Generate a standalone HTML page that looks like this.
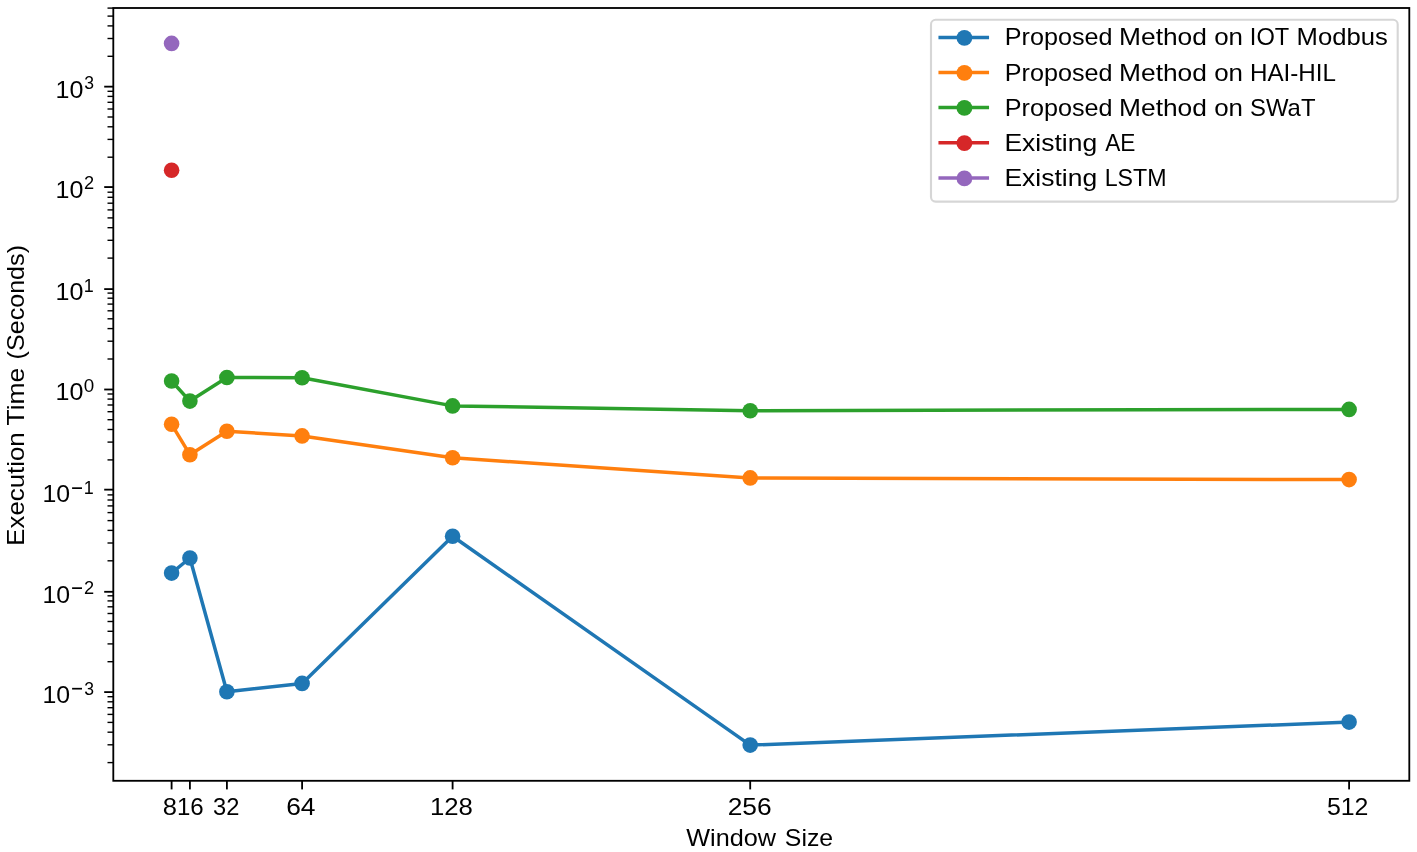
<!DOCTYPE html>
<html><head><meta charset="utf-8"><title>Execution Time vs Window Size</title>
<style>html,body{margin:0;padding:0;background:#fff;}svg{display:block;}</style></head>
<body>
<svg width="1417" height="852" viewBox="0 0 1417 852" font-family="Liberation Sans, sans-serif" fill="#000" style="will-change:transform">
<rect width="1417" height="852" fill="#fff"/>
<polyline points="171.6,573.1 189.9,558.0 226.9,691.8 302.1,683.4 452.6,536.3 750.2,745.1 1349.1,722.1" fill="none" stroke="#1f77b4" stroke-width="3.5" stroke-linejoin="round" stroke-linecap="square"/>
<circle cx="171.6" cy="573.1" r="7.8" fill="#1f77b4"/>
<circle cx="189.9" cy="558.0" r="7.8" fill="#1f77b4"/>
<circle cx="226.9" cy="691.8" r="7.8" fill="#1f77b4"/>
<circle cx="302.1" cy="683.4" r="7.8" fill="#1f77b4"/>
<circle cx="452.6" cy="536.3" r="7.8" fill="#1f77b4"/>
<circle cx="750.2" cy="745.1" r="7.8" fill="#1f77b4"/>
<circle cx="1349.1" cy="722.1" r="7.8" fill="#1f77b4"/>
<polyline points="171.6,424.3 189.9,454.7 226.9,431.2 302.1,435.9 452.6,457.8 750.2,477.9 1349.1,479.6" fill="none" stroke="#ff7f0e" stroke-width="3.5" stroke-linejoin="round" stroke-linecap="square"/>
<circle cx="171.6" cy="424.3" r="7.8" fill="#ff7f0e"/>
<circle cx="189.9" cy="454.7" r="7.8" fill="#ff7f0e"/>
<circle cx="226.9" cy="431.2" r="7.8" fill="#ff7f0e"/>
<circle cx="302.1" cy="435.9" r="7.8" fill="#ff7f0e"/>
<circle cx="452.6" cy="457.8" r="7.8" fill="#ff7f0e"/>
<circle cx="750.2" cy="477.9" r="7.8" fill="#ff7f0e"/>
<circle cx="1349.1" cy="479.6" r="7.8" fill="#ff7f0e"/>
<polyline points="171.6,381.0 189.9,401.1 226.9,377.5 302.1,377.8 452.6,405.9 750.2,410.7 1349.1,409.4" fill="none" stroke="#2ca02c" stroke-width="3.5" stroke-linejoin="round" stroke-linecap="square"/>
<circle cx="171.6" cy="381.0" r="7.8" fill="#2ca02c"/>
<circle cx="189.9" cy="401.1" r="7.8" fill="#2ca02c"/>
<circle cx="226.9" cy="377.5" r="7.8" fill="#2ca02c"/>
<circle cx="302.1" cy="377.8" r="7.8" fill="#2ca02c"/>
<circle cx="452.6" cy="405.9" r="7.8" fill="#2ca02c"/>
<circle cx="750.2" cy="410.7" r="7.8" fill="#2ca02c"/>
<circle cx="1349.1" cy="409.4" r="7.8" fill="#2ca02c"/>
<circle cx="171.6" cy="170.2" r="7.8" fill="#d62728"/>
<circle cx="171.6" cy="43.4" r="7.8" fill="#9467bd"/>
<line x1="171.6" y1="780.8" x2="171.6" y2="789.4" stroke="#000" stroke-width="1.83"/>
<line x1="189.9" y1="780.8" x2="189.9" y2="789.4" stroke="#000" stroke-width="1.83"/>
<line x1="226.9" y1="780.8" x2="226.9" y2="789.4" stroke="#000" stroke-width="1.83"/>
<line x1="302.1" y1="780.8" x2="302.1" y2="789.4" stroke="#000" stroke-width="1.83"/>
<line x1="452.6" y1="780.8" x2="452.6" y2="789.4" stroke="#000" stroke-width="1.83"/>
<line x1="750.2" y1="780.8" x2="750.2" y2="789.4" stroke="#000" stroke-width="1.83"/>
<line x1="1349.1" y1="780.8" x2="1349.1" y2="789.4" stroke="#000" stroke-width="1.83"/>
<line x1="113.3" y1="86.65" x2="104.2" y2="86.65" stroke="#000" stroke-width="1.83"/>
<line x1="113.3" y1="187.06" x2="104.2" y2="187.06" stroke="#000" stroke-width="1.83"/>
<line x1="113.3" y1="289.1" x2="104.2" y2="289.1" stroke="#000" stroke-width="1.83"/>
<line x1="113.3" y1="389.5" x2="104.2" y2="389.5" stroke="#000" stroke-width="1.83"/>
<line x1="113.3" y1="489.65" x2="104.2" y2="489.65" stroke="#000" stroke-width="1.83"/>
<line x1="113.3" y1="591.8" x2="104.2" y2="591.8" stroke="#000" stroke-width="1.83"/>
<line x1="113.3" y1="692.1" x2="104.2" y2="692.1" stroke="#000" stroke-width="1.83"/>
<line x1="113.3" y1="762.6" x2="107.5" y2="762.6" stroke="#000" stroke-width="1.4"/>
<line x1="113.3" y1="744.8" x2="107.5" y2="744.8" stroke="#000" stroke-width="1.4"/>
<line x1="113.3" y1="732.2" x2="107.5" y2="732.2" stroke="#000" stroke-width="1.4"/>
<line x1="113.3" y1="722.4" x2="107.5" y2="722.4" stroke="#000" stroke-width="1.4"/>
<line x1="113.3" y1="714.4" x2="107.5" y2="714.4" stroke="#000" stroke-width="1.4"/>
<line x1="113.3" y1="707.7" x2="107.5" y2="707.7" stroke="#000" stroke-width="1.4"/>
<line x1="113.3" y1="701.8" x2="107.5" y2="701.8" stroke="#000" stroke-width="1.4"/>
<line x1="113.3" y1="696.7" x2="107.5" y2="696.7" stroke="#000" stroke-width="1.4"/>
<line x1="113.3" y1="661.7" x2="107.5" y2="661.7" stroke="#000" stroke-width="1.4"/>
<line x1="113.3" y1="643.9" x2="107.5" y2="643.9" stroke="#000" stroke-width="1.4"/>
<line x1="113.3" y1="631.3" x2="107.5" y2="631.3" stroke="#000" stroke-width="1.4"/>
<line x1="113.3" y1="621.5" x2="107.5" y2="621.5" stroke="#000" stroke-width="1.4"/>
<line x1="113.3" y1="613.5" x2="107.5" y2="613.5" stroke="#000" stroke-width="1.4"/>
<line x1="113.3" y1="606.8" x2="107.5" y2="606.8" stroke="#000" stroke-width="1.4"/>
<line x1="113.3" y1="600.9" x2="107.5" y2="600.9" stroke="#000" stroke-width="1.4"/>
<line x1="113.3" y1="595.8" x2="107.5" y2="595.8" stroke="#000" stroke-width="1.4"/>
<line x1="113.3" y1="560.8" x2="107.5" y2="560.8" stroke="#000" stroke-width="1.4"/>
<line x1="113.3" y1="543.0" x2="107.5" y2="543.0" stroke="#000" stroke-width="1.4"/>
<line x1="113.3" y1="530.4" x2="107.5" y2="530.4" stroke="#000" stroke-width="1.4"/>
<line x1="113.3" y1="520.6" x2="107.5" y2="520.6" stroke="#000" stroke-width="1.4"/>
<line x1="113.3" y1="512.6" x2="107.5" y2="512.6" stroke="#000" stroke-width="1.4"/>
<line x1="113.3" y1="505.9" x2="107.5" y2="505.9" stroke="#000" stroke-width="1.4"/>
<line x1="113.3" y1="500.0" x2="107.5" y2="500.0" stroke="#000" stroke-width="1.4"/>
<line x1="113.3" y1="494.9" x2="107.5" y2="494.9" stroke="#000" stroke-width="1.4"/>
<line x1="113.3" y1="459.9" x2="107.5" y2="459.9" stroke="#000" stroke-width="1.4"/>
<line x1="113.3" y1="442.1" x2="107.5" y2="442.1" stroke="#000" stroke-width="1.4"/>
<line x1="113.3" y1="429.5" x2="107.5" y2="429.5" stroke="#000" stroke-width="1.4"/>
<line x1="113.3" y1="419.7" x2="107.5" y2="419.7" stroke="#000" stroke-width="1.4"/>
<line x1="113.3" y1="411.7" x2="107.5" y2="411.7" stroke="#000" stroke-width="1.4"/>
<line x1="113.3" y1="405.0" x2="107.5" y2="405.0" stroke="#000" stroke-width="1.4"/>
<line x1="113.3" y1="399.1" x2="107.5" y2="399.1" stroke="#000" stroke-width="1.4"/>
<line x1="113.3" y1="394.0" x2="107.5" y2="394.0" stroke="#000" stroke-width="1.4"/>
<line x1="113.3" y1="359.0" x2="107.5" y2="359.0" stroke="#000" stroke-width="1.4"/>
<line x1="113.3" y1="341.2" x2="107.5" y2="341.2" stroke="#000" stroke-width="1.4"/>
<line x1="113.3" y1="328.6" x2="107.5" y2="328.6" stroke="#000" stroke-width="1.4"/>
<line x1="113.3" y1="318.8" x2="107.5" y2="318.8" stroke="#000" stroke-width="1.4"/>
<line x1="113.3" y1="310.8" x2="107.5" y2="310.8" stroke="#000" stroke-width="1.4"/>
<line x1="113.3" y1="304.1" x2="107.5" y2="304.1" stroke="#000" stroke-width="1.4"/>
<line x1="113.3" y1="298.2" x2="107.5" y2="298.2" stroke="#000" stroke-width="1.4"/>
<line x1="113.3" y1="293.1" x2="107.5" y2="293.1" stroke="#000" stroke-width="1.4"/>
<line x1="113.3" y1="258.1" x2="107.5" y2="258.1" stroke="#000" stroke-width="1.4"/>
<line x1="113.3" y1="240.3" x2="107.5" y2="240.3" stroke="#000" stroke-width="1.4"/>
<line x1="113.3" y1="227.7" x2="107.5" y2="227.7" stroke="#000" stroke-width="1.4"/>
<line x1="113.3" y1="217.9" x2="107.5" y2="217.9" stroke="#000" stroke-width="1.4"/>
<line x1="113.3" y1="209.9" x2="107.5" y2="209.9" stroke="#000" stroke-width="1.4"/>
<line x1="113.3" y1="203.2" x2="107.5" y2="203.2" stroke="#000" stroke-width="1.4"/>
<line x1="113.3" y1="197.3" x2="107.5" y2="197.3" stroke="#000" stroke-width="1.4"/>
<line x1="113.3" y1="192.2" x2="107.5" y2="192.2" stroke="#000" stroke-width="1.4"/>
<line x1="113.3" y1="157.2" x2="107.5" y2="157.2" stroke="#000" stroke-width="1.4"/>
<line x1="113.3" y1="139.4" x2="107.5" y2="139.4" stroke="#000" stroke-width="1.4"/>
<line x1="113.3" y1="126.8" x2="107.5" y2="126.8" stroke="#000" stroke-width="1.4"/>
<line x1="113.3" y1="117.0" x2="107.5" y2="117.0" stroke="#000" stroke-width="1.4"/>
<line x1="113.3" y1="109.0" x2="107.5" y2="109.0" stroke="#000" stroke-width="1.4"/>
<line x1="113.3" y1="102.3" x2="107.5" y2="102.3" stroke="#000" stroke-width="1.4"/>
<line x1="113.3" y1="96.4" x2="107.5" y2="96.4" stroke="#000" stroke-width="1.4"/>
<line x1="113.3" y1="91.3" x2="107.5" y2="91.3" stroke="#000" stroke-width="1.4"/>
<line x1="113.3" y1="56.3" x2="107.5" y2="56.3" stroke="#000" stroke-width="1.4"/>
<line x1="113.3" y1="38.5" x2="107.5" y2="38.5" stroke="#000" stroke-width="1.4"/>
<line x1="113.3" y1="25.9" x2="107.5" y2="25.9" stroke="#000" stroke-width="1.4"/>
<line x1="113.3" y1="16.1" x2="107.5" y2="16.1" stroke="#000" stroke-width="1.4"/>
<line x1="113.3" y1="8.1" x2="107.5" y2="8.1" stroke="#000" stroke-width="1.4"/>
<rect x="113.3" y="8.0" width="1296.0" height="772.8" fill="none" stroke="#000" stroke-width="1.83"/>
<text x="162.68" y="814.80" font-size="23.3" textLength="14.22" lengthAdjust="spacingAndGlyphs">8</text>
<text x="176.99" y="814.80" font-size="23.3" textLength="26.77" lengthAdjust="spacingAndGlyphs">16</text>
<text x="213.07" y="814.80" font-size="23.3" textLength="26.35" lengthAdjust="spacingAndGlyphs">32</text>
<text x="286.16" y="814.80" font-size="23.3" textLength="29.36" lengthAdjust="spacingAndGlyphs">64</text>
<text x="429.96" y="814.80" font-size="23.3" textLength="42.97" lengthAdjust="spacingAndGlyphs">128</text>
<text x="727.67" y="814.80" font-size="23.3" textLength="44.00" lengthAdjust="spacingAndGlyphs">256</text>
<text x="1326.94" y="814.80" font-size="23.3" textLength="41.53" lengthAdjust="spacingAndGlyphs">512</text>
<text x="55.50" y="97.50" font-size="23.3" textLength="27.87" lengthAdjust="spacingAndGlyphs">10</text>
<text x="84.23" y="89.00" font-size="18.8" textLength="9.79" lengthAdjust="spacingAndGlyphs">3</text>
<text x="55.50" y="197.60" font-size="23.3" textLength="27.87" lengthAdjust="spacingAndGlyphs">10</text>
<text x="83.95" y="189.40" font-size="18.8" textLength="10.15" lengthAdjust="spacingAndGlyphs">2</text>
<text x="55.50" y="299.70" font-size="23.3" textLength="27.87" lengthAdjust="spacingAndGlyphs">10</text>
<text x="83.72" y="291.50" font-size="18.8" textLength="9.98" lengthAdjust="spacingAndGlyphs">1</text>
<text x="55.50" y="400.10" font-size="23.3" textLength="27.87" lengthAdjust="spacingAndGlyphs">10</text>
<text x="83.77" y="391.90" font-size="18.8" textLength="10.45" lengthAdjust="spacingAndGlyphs">0</text>
<text x="42.40" y="502.20" font-size="23.3" textLength="27.64" lengthAdjust="spacingAndGlyphs">10</text>
<text x="83.72" y="493.95" font-size="18.8" textLength="9.98" lengthAdjust="spacingAndGlyphs">1</text>
<text x="42.40" y="602.60" font-size="23.3" textLength="27.64" lengthAdjust="spacingAndGlyphs">10</text>
<text x="83.95" y="593.95" font-size="18.8" textLength="10.15" lengthAdjust="spacingAndGlyphs">2</text>
<text x="42.40" y="702.70" font-size="23.3" textLength="27.64" lengthAdjust="spacingAndGlyphs">10</text>
<text x="84.23" y="694.50" font-size="18.8" textLength="9.79" lengthAdjust="spacingAndGlyphs">3</text>
<text x="686.25" y="846.20" font-size="23.4" textLength="89.75" lengthAdjust="spacingAndGlyphs">Window</text>
<text x="784.84" y="846.20" font-size="23.4" textLength="48.33" lengthAdjust="spacingAndGlyphs">Size</text>
<text transform="translate(23.50,545.68) rotate(-90)" font-size="23.4" textLength="113.38" lengthAdjust="spacingAndGlyphs">Execution</text>
<text transform="translate(23.50,425.47) rotate(-90)" font-size="23.4" textLength="57.81" lengthAdjust="spacingAndGlyphs">Time</text>
<text transform="translate(23.50,359.40) rotate(-90)" font-size="23.4" textLength="114.39" lengthAdjust="spacingAndGlyphs">(Seconds)</text>
<line x1="72.1" y1="488.15" x2="82.0" y2="488.15" stroke="#000" stroke-width="1.7"/>
<line x1="72.1" y1="588.15" x2="82.0" y2="588.15" stroke="#000" stroke-width="1.7"/>
<line x1="72.1" y1="688.70" x2="82.0" y2="688.70" stroke="#000" stroke-width="1.7"/>
<rect x="931.0" y="19.8" width="466.70000000000005" height="181.79999999999998" rx="4.6" fill="#fff" fill-opacity="0.8" stroke="#ccc" stroke-opacity="0.8" stroke-width="2.1"/>
<line x1="940.2" y1="37.4" x2="987.3" y2="37.4" stroke="#1f77b4" stroke-width="3.5" stroke-linecap="square"/>
<circle cx="964.4" cy="37.85" r="7.8999999999999995" fill="#1f77b4"/>
<line x1="940.2" y1="72.5" x2="987.3" y2="72.5" stroke="#ff7f0e" stroke-width="3.5" stroke-linecap="square"/>
<circle cx="964.4" cy="72.95" r="7.8999999999999995" fill="#ff7f0e"/>
<line x1="940.2" y1="107.5" x2="987.3" y2="107.5" stroke="#2ca02c" stroke-width="3.5" stroke-linecap="square"/>
<circle cx="964.4" cy="107.95" r="7.8999999999999995" fill="#2ca02c"/>
<line x1="940.2" y1="142.7" x2="987.3" y2="142.7" stroke="#d62728" stroke-width="3.5" stroke-linecap="square"/>
<circle cx="964.4" cy="143.15" r="7.8999999999999995" fill="#d62728"/>
<line x1="940.2" y1="178.0" x2="987.3" y2="178.0" stroke="#9467bd" stroke-width="3.5" stroke-linecap="square"/>
<circle cx="964.4" cy="178.45" r="7.8999999999999995" fill="#9467bd"/>
<text x="1004.83" y="45.30" font-size="23.4" textLength="107.67" lengthAdjust="spacingAndGlyphs">Proposed</text>
<text x="1119.10" y="45.30" font-size="23.4" textLength="87.78" lengthAdjust="spacingAndGlyphs">Method</text>
<text x="1214.19" y="45.30" font-size="23.4" textLength="28.82" lengthAdjust="spacingAndGlyphs">on</text>
<text x="1004.83" y="80.60" font-size="23.4" textLength="107.67" lengthAdjust="spacingAndGlyphs">Proposed</text>
<text x="1119.10" y="80.60" font-size="23.4" textLength="87.78" lengthAdjust="spacingAndGlyphs">Method</text>
<text x="1214.19" y="80.60" font-size="23.4" textLength="28.82" lengthAdjust="spacingAndGlyphs">on</text>
<text x="1004.83" y="115.70" font-size="23.4" textLength="107.67" lengthAdjust="spacingAndGlyphs">Proposed</text>
<text x="1119.10" y="115.70" font-size="23.4" textLength="87.78" lengthAdjust="spacingAndGlyphs">Method</text>
<text x="1214.19" y="115.70" font-size="23.4" textLength="28.82" lengthAdjust="spacingAndGlyphs">on</text>
<text x="1249.86" y="45.30" font-size="23.4" textLength="39.38" lengthAdjust="spacingAndGlyphs">IOT</text>
<text x="1296.59" y="45.30" font-size="23.4" textLength="91.15" lengthAdjust="spacingAndGlyphs">Modbus</text>
<text x="1249.93" y="80.60" font-size="23.4" textLength="86.00" lengthAdjust="spacingAndGlyphs">HAI-HIL</text>
<text x="1250.02" y="115.70" font-size="23.4" textLength="65.45" lengthAdjust="spacingAndGlyphs">SWaT</text>
<text x="1004.46" y="151.10" font-size="23.4" textLength="92.72" lengthAdjust="spacingAndGlyphs">Existing</text>
<text x="1105.19" y="151.10" font-size="23.4" textLength="30.24" lengthAdjust="spacingAndGlyphs">AE</text>
<text x="1004.46" y="186.20" font-size="23.4" textLength="92.72" lengthAdjust="spacingAndGlyphs">Existing</text>
<text x="1104.64" y="186.20" font-size="23.4" textLength="61.88" lengthAdjust="spacingAndGlyphs">LSTM</text>
</svg>
</body></html>
